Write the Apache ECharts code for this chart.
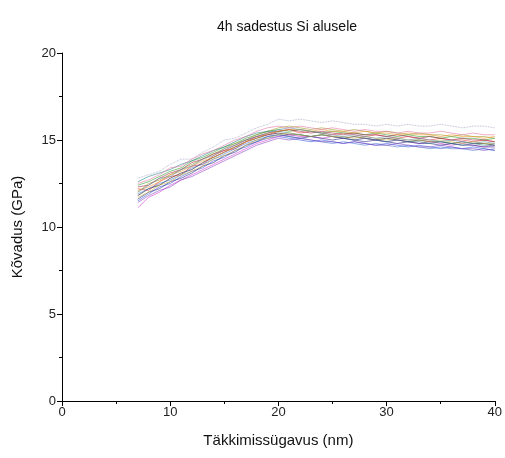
<!DOCTYPE html>
<html>
<head>
<meta charset="utf-8">
<script src="https://cdn.jsdelivr.net/npm/echarts@6/dist/echarts.min.js"></script>
<style>html,body{margin:0;padding:0;background:#fff}#c{width:505px;height:458px}</style>
</head>
<body>
<div id="c"></div>
<script>
const title = "4h sadestus Si alusele";
const xName = "Täkkimissügavus (nm)";
const yName = "Kõvadus (GPa)";
const depth = [7,8,9,10,11,12,13,14,15,16,17,18,19,20,21,22,23,24,25,26,27,28,29,30,31,32,33,34,35,36,37,38,39,40];
const s1 = [11.8,12.2,12.4,12.8,13.1,13.3,13.7,14.0,14.3,14.6,14.9,15.1,15.3,15.4,15.3,15.3,15.2,15.3,15.2,15.1,15.2,15.1,15.0,15.1,15.0,14.9,15.0,14.9,14.9,14.8,14.9,14.8,14.8,14.7];
const s2 = [12.2,12.1,12.6,12.9,13.0,13.5,13.6,14.1,14.4,14.5,14.9,15.2,15.3,15.5,15.6,15.4,15.5,15.4,15.3,15.4,15.3,15.2,15.3,15.2,15.1,15.2,15.1,15.0,15.1,15.0,15.0,14.9,15.0,14.9];
const s3 = [11.5,11.9,12.3,12.5,12.9,13.2,13.4,13.8,14.0,14.4,14.6,14.9,15.1,15.2,15.1,15.0,14.9,15.0,14.9,14.8,14.9,14.8,14.7,14.8,14.7,14.6,14.7,14.6,14.5,14.6,14.5,14.6,14.5,14.4];
const s4 = [12.4,12.6,12.9,13.2,13.4,13.8,14.0,14.3,14.6,14.8,15.1,15.3,15.5,15.6,15.5,15.6,15.5,15.4,15.5,15.4,15.4,15.3,15.4,15.3,15.2,15.3,15.2,15.2,15.1,15.2,15.1,15.1,15.0,15.1];
const s5 = [11.1,11.7,12.0,12.4,12.7,13.0,13.3,13.6,13.9,14.2,14.5,14.8,15.0,15.2,15.3,15.2,15.2,15.1,15.2,15.1,15.0,15.1,15.0,14.9,15.0,14.9,14.8,14.9,14.8,14.7,14.8,14.7,14.6,14.7];
const s6 = [12.0,12.5,12.7,13.0,13.3,13.6,13.9,14.2,14.5,14.8,15.0,15.3,15.5,15.7,15.8,15.7,15.6,15.7,15.6,15.5,15.6,15.5,15.4,15.5,15.4,15.3,15.4,15.3,15.3,15.2,15.3,15.2,15.2,15.1];
const s7 = [11.6,12.0,12.2,12.6,12.8,13.1,13.5,13.7,14.1,14.3,14.7,14.9,15.2,15.3,15.2,15.1,15.2,15.1,15.0,15.1,15.0,14.9,15.0,14.9,14.8,14.9,14.8,14.8,14.7,14.8,14.7,14.7,14.6,14.6];
const s8 = [12.8,13.0,13.2,13.6,13.9,13.9,14.3,14.6,15.0,15.1,15.4,15.7,15.9,16.2,16.1,16.2,16.1,16.0,16.1,16.0,15.9,15.9,15.8,15.9,15.8,15.9,15.8,15.8,15.9,15.8,15.7,15.8,15.8,15.7];
const s9 = [12.3,12.4,12.8,13.1,13.3,13.7,13.9,14.2,14.4,14.7,15.0,15.2,15.4,15.5,15.6,15.5,15.4,15.5,15.4,15.3,15.4,15.3,15.3,15.2,15.3,15.2,15.1,15.2,15.1,15.0,15.1,15.0,15.0,14.9];
const s10 = [12.6,12.9,13.1,13.3,13.6,13.8,14.1,14.4,14.6,14.9,15.2,15.4,15.5,15.5,15.4,15.3,15.2,15.3,15.2,15.1,15.0,15.1,15.0,14.9,15.0,14.9,14.9,14.8,14.9,14.8,14.7,14.8,14.7,14.7];
const s11 = [11.9,12.2,12.5,12.7,13.0,13.4,13.6,13.9,14.2,14.5,14.8,15.0,15.2,15.3,15.2,15.1,15.0,14.9,14.8,14.9,14.8,14.7,14.8,14.7,14.6,14.7,14.6,14.5,14.6,14.5,14.5,14.4,14.5,14.4];
const s12 = [12.1,12.3,12.6,13.0,13.2,13.5,13.8,14.0,14.3,14.6,14.9,15.1,15.4,15.5,15.6,15.6,15.5,15.6,15.5,15.5,15.4,15.5,15.4,15.4,15.3,15.4,15.3,15.3,15.2,15.3,15.2,15.2,15.1,15.2];
const s13 = [11.4,11.8,12.1,12.3,12.7,12.9,13.2,13.5,13.8,14.1,14.4,14.7,14.9,15.1,15.0,15.1,15.0,14.9,14.9,14.8,14.9,14.8,14.7,14.7,14.8,14.7,14.6,14.6,14.7,14.6,14.5,14.5,14.4,14.5];
const s14 = [12.5,12.7,13.0,13.4,13.5,13.9,14.2,14.4,14.7,15.0,15.2,15.5,15.7,15.8,15.7,15.8,15.7,15.6,15.7,15.6,15.5,15.6,15.5,15.5,15.4,15.5,15.4,15.4,15.5,15.4,15.3,15.4,15.3,15.3];
const s15 = [11.7,12.0,12.4,12.6,13.0,13.2,13.5,13.9,14.1,14.4,14.7,15.0,15.1,15.3,15.4,15.3,15.2,15.3,15.2,15.2,15.1,15.2,15.1,15.0,15.1,15.0,15.0,14.9,15.0,14.9,14.8,14.9,14.8,14.8];
const s16 = [12.0,12.4,12.8,12.9,13.3,13.5,13.9,14.1,14.5,14.7,15.0,15.2,15.4,15.6,15.7,15.6,15.5,15.4,15.3,15.2,15.3,15.2,15.1,15.2,15.1,15.0,15.1,15.0,14.9,15.0,14.9,14.8,14.9,14.8];
const allSeries = [s1,s2,s3,s4,s5,s6,s7,s8,s9,s10,s11,s12,s13,s14,s15,s16];
const colors = ['#000000','#e03030','#3050e0','#2a9a2a','#d030d0','#9a9a20','#202080','#8080b0','#a02040','#208080','#4070d0','#f09020','#8040c0','#e070a0','#c0b040','#6090b0'];

const chart = echarts.init(document.getElementById('c'), null, {renderer:'canvas'});
const font = 'Liberation Sans, Arial, sans-serif';
chart.setOption({
  animation:false,
  backgroundColor:'#fff',
  title:{text:title,left:282,top:15,textAlign:'center',textStyle:{fontFamily:font,fontSize:14,fontWeight:'normal',color:'#111'}},
  grid:{left:62,right:10,top:53,bottom:57,containLabel:false},
  xAxis:{type:'value',min:0,max:40,interval:10,name:xName,nameLocation:'middle',nameGap:32,
    nameTextStyle:{fontFamily:font,fontSize:15,color:'#111'},
    axisLine:{show:true,onZero:false,lineStyle:{color:'#000',width:1}},
    axisTick:{show:true,inside:false,length:5,lineStyle:{color:'#000'}},
    minorTick:{show:true,splitNumber:2,length:3,lineStyle:{color:'#000'}},
    splitLine:{show:false},
    axisLabel:{fontFamily:font,fontSize:13,color:'#222',margin:5}},
  yAxis:{type:'value',min:0,max:20,interval:5,name:yName,nameLocation:'middle',nameGap:37,
    nameTextStyle:{fontFamily:font,fontSize:15,color:'#111'},
    axisLine:{show:true,onZero:false,lineStyle:{color:'#000',width:1}},
    axisTick:{show:true,inside:false,length:5,lineStyle:{color:'#000'}},
    minorTick:{show:true,splitNumber:2,length:3,lineStyle:{color:'#000'}},
    splitLine:{show:false},
    axisLabel:{fontFamily:font,fontSize:13,color:'#222',margin:6}},
  series: allSeries.map((s,i)=>({
    type:'line',
    data: s.map((v,j)=>[depth[j],v]),
    showSymbol:false,
    lineStyle:{width:0.8,color:colors[i],opacity:0.7,type: i===7 ? 'dotted' : 'solid'},
    itemStyle:{color:colors[i]}
  }))
});
</script>
</body>
</html>
